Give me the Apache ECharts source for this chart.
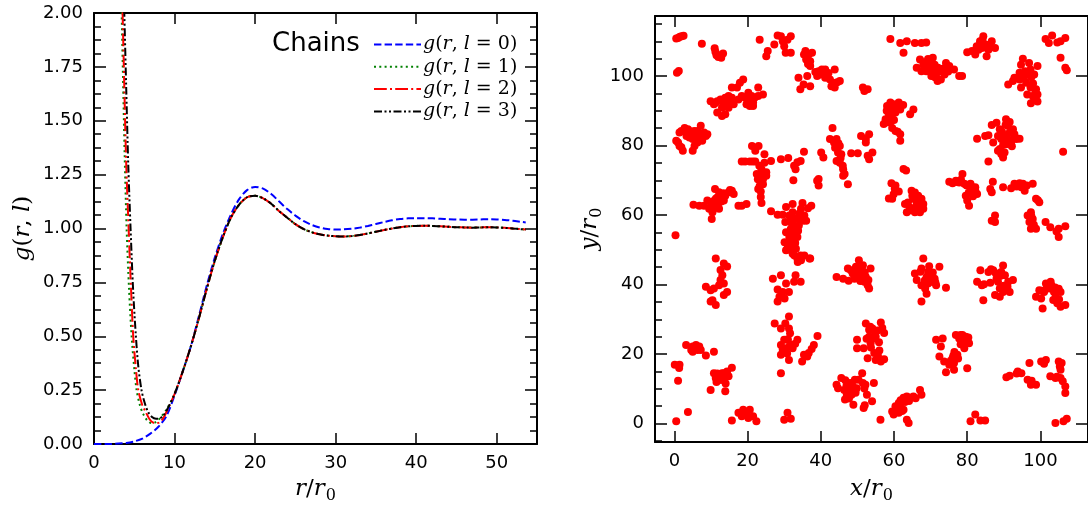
<!DOCTYPE html>
<html>
<head>
<meta charset="utf-8">
<script src="https://cdn.jsdelivr.net/npm/echarts@6/dist/echarts.min.js"></script>
<style>html,body{margin:0;padding:0;background:#fff;}#c{width:1088px;height:509px;}</style>
</head>
<body>
<div id="c"></div>
<script>
// ---- Left panel: radial distribution functions g(r,l) ----
var gL0 = [[0,0],[2,0.0],[3,0.002],[4,0.005],[5,0.012],[6,0.025],[7,0.048],[8,0.08],[9,0.13],[10,0.225],[11,0.335],[12,0.45],[13,0.59],[14,0.735],[15,0.865],[16,0.975],[17,1.065],[18,1.135],[19,1.178],[20,1.193],[21,1.185],[22,1.16],[23,1.125],[24,1.09],[25,1.06],[26,1.035],[27,1.017],[28,1.005],[29,0.998],[30,0.995],[31,0.996],[32,0.999],[33,1.004],[34,1.012],[35,1.021],[36,1.03],[37,1.038],[38,1.044],[39,1.047],[40,1.048],[41,1.048],[42,1.047],[43,1.045],[44,1.043],[45,1.042],[46,1.041],[47,1.041],[48,1.042],[49,1.043],[50,1.042],[51,1.04],[52,1.036],[53,1.031],[53.6,1.028]];
var gL1 = [[3.3,2.2],[3.43,2.0],[3.6,1.7],[3.8,1.35],[4.05,1.0],[4.35,0.72],[4.67,0.5],[5.0,0.35],[5.29,0.25],[5.7,0.18],[6.1,0.14],[6.6,0.11],[7.1,0.097],[7.6,0.1],[8.2,0.12],[9,0.16],[10,0.232],[11,0.335],[12,0.45],[13,0.58],[14,0.72],[15,0.85],[16,0.96],[17,1.05],[18,1.11],[19,1.145],[20,1.152],[21,1.14],[22,1.115],[23,1.08],[24,1.05],[25,1.02],[26,0.998],[27,0.983],[28,0.973],[29,0.967],[30,0.964],[31,0.963],[32,0.965],[33,0.97],[34,0.977],[35,0.985],[36,0.993],[37,1.0],[38,1.006],[39,1.01],[40,1.012],[41,1.013],[42,1.012],[43,1.01],[44,1.008],[45,1.006],[46,1.005],[47,1.004],[48,1.005],[49,1.006],[50,1.005],[51,1.003],[52,1.0],[53,0.997],[53.6,0.995]];
var gL2 = [[3.4,2.2],[3.55,2.0],[3.75,1.68],[4.0,1.3],[4.3,1.0],[4.6,0.72],[4.87,0.5],[5.2,0.35],[5.5,0.25],[6.0,0.18],[6.4,0.15],[6.9,0.115],[7.3,0.1],[7.7,0.097],[8.1,0.1],[8.6,0.12],[9.2,0.165],[10,0.232],[11,0.335],[12,0.45],[13,0.58],[14,0.72],[15,0.85],[16,0.96],[17,1.05],[18,1.11],[19,1.145],[20,1.152],[21,1.14],[22,1.115],[23,1.08],[24,1.05],[25,1.02],[26,0.998],[27,0.983],[28,0.973],[29,0.967],[30,0.964],[31,0.963],[32,0.965],[33,0.97],[34,0.977],[35,0.985],[36,0.993],[37,1.0],[38,1.006],[39,1.01],[40,1.012],[41,1.013],[42,1.012],[43,1.01],[44,1.008],[45,1.006],[46,1.005],[47,1.004],[48,1.005],[49,1.006],[50,1.005],[51,1.003],[52,1.0],[53,0.997],[53.6,0.995]];
var gL3 = [[3.6,2.2],[3.76,2.0],[4.0,1.65],[4.25,1.3],[4.54,1.0],[4.85,0.72],[5.2,0.5],[5.5,0.36],[5.9,0.25],[6.3,0.19],[6.7,0.15],[7.2,0.125],[7.7,0.117],[8.1,0.118],[8.6,0.132],[9.2,0.168],[10,0.232],[11,0.335],[12,0.45],[13,0.58],[14,0.72],[15,0.85],[16,0.96],[17,1.05],[18,1.11],[19,1.145],[20,1.152],[21,1.14],[22,1.115],[23,1.08],[24,1.05],[25,1.02],[26,0.998],[27,0.983],[28,0.973],[29,0.967],[30,0.964],[31,0.963],[32,0.965],[33,0.97],[34,0.977],[35,0.985],[36,0.993],[37,1.0],[38,1.006],[39,1.01],[40,1.012],[41,1.013],[42,1.012],[43,1.01],[44,1.008],[45,1.006],[46,1.005],[47,1.004],[48,1.005],[49,1.006],[50,1.005],[51,1.003],[52,1.0],[53,0.997],[53.6,0.995]];
var legendNames = ['l = 0', 'l = 1', 'l = 2', 'l = 3'];

// tick values
var leftXTicks = [0, 10, 20, 30, 40, 50];
var rightMajorTicks = [0, 20, 40, 60, 80, 100];
var rightMinorTicks = [-5, 5, 10, 15, 25, 30, 35, 45, 50, 55, 65, 70, 75, 85, 90, 95, 105, 110, 115];

// ---- Right panel: particle positions (x/r0, y/r0) ----
var ptsTop = [[0.5,110.8],[1,111],[1.5,111.3],[2,111.5],[2.5,111.6],[0.7,101],[1.2,101.5],[7.5,109.3],
[11,108],[11.2,107],[11.5,106],[12,105.5],[12.5,106],[13.3,106.5],[12.8,105.3],
[23.3,110.5],[25.1,105.7],[25.5,107.2],[27.3,109.1],[28.2,111.7],[29.1,111.5],[30,108.6],[30.9,110.5],[30.4,106.7],[31.8,111.5],[31.8,106.7],[29.6,110],
[35.8,107.2],[36.7,106.2],[37.6,106.7],[37.1,104.3],[37.1,102.9],[36.3,100],[33.9,99.5],[34.4,96.2],[35.3,97.6],[37.1,97.1],[39,100],[39.4,101.4],[40.3,101.9],[41.2,101.9],[41.2,99.5],[42.5,99],[43.4,98.1],[43.8,96.7],[42.9,97.1],[43.8,101.9],[45.2,98.6],[42.1,100.9],[39.8,100.5],[35.4,106.2],
[36,104.8],[36.5,103.5],[40.8,100.8],[38.5,101.2],[44.5,98.2],
[51.9,95.7],[52.8,96.2],[51.5,96.7],
[59,110.7],[61.7,109.5],[62.6,106.7],[63.5,110],[65.7,109.5],[67.5,109.5],[68.8,109.7],[67.1,104.8],[68,103.3],[67.5,101.4],[68.8,101.4],[69.3,102.9],[70.6,105.3],[71.1,103.3],[70.6,101.4],[71.5,100.5],[71.9,98.6],[72.8,101.4],[73.8,100.5],[74.2,103.8],[75.1,102.9],[76.4,101.9],[77.8,100],[78.6,100],[66.2,102.4],[70.2,100],[72.8,99],
[68.4,104],[69.5,101.8],[70,103.5],[72,102.4],[71.2,99.7],[73.3,102.1],[74.8,101.3],[69.3,104.9],
[80,106.9],[81.3,107.2],[82.2,106.2],[82.6,108.6],[83.5,110],[84.4,111.5],[84.9,109.1],[85.3,105.7],[85.8,107.6],[86.7,110],[87.6,108.1],[84,108.1],[83.1,107.6],
[83.4,108.9],[84.2,110.4],[85.2,108.2],[86,109],[82.4,107.5],
[101.4,110.7],[102.3,109.5],[103.2,111.7],[104.6,109.7],[105.5,110],[106.8,111],[105.5,105.3],[106.8,102.4],[107.2,101.7],
[95.2,105],[94.7,103.3],[96.9,103.8],[97.3,101.9],[99.2,102.9],[98.3,100.5],[94.3,101],[92.9,99.5],[92.5,98.6],[91.2,97.6],[94.3,99],[94.7,96.7],[96.1,98.1],[97.3,96.7],[96.4,94.7],[97.9,94.3],[98.8,96.2],[99.2,94.7],[98.3,93.2],[97.4,92.2],[99.2,92.7],
[95.8,101.4],[96.6,100.5],[97.5,99.7],[98,97.9],[98.6,95.1],[95.5,99.7]];
var ptsUpper = [[9.9,92.8],[10.8,91.9],[11.7,92.8],[12.6,93.3],[11.7,89.5],[13,88.5],[13.9,89],[13,90.9],[14.4,91.9],[14.8,94.3],[15.7,93.8],[15.7,96.7],[17.1,96.7],[17.9,98.1],[18.8,99],[16.2,91.9],[13.9,93.8],[19.3,93.8],[19.7,91.9],[20.2,93.3],[20.6,91.4],[21.5,92.4],[21.9,93.8],[22.9,96.7],[22.9,94.3],[24.2,94.7],[21.1,94.3],[20.2,95.2],
[11.3,92.3],[13.5,92.3],[15.3,93.3],[17.5,93.3],[18.4,94.3],[20.6,92.8],[21.5,91.4],[14.8,90.9],
[0.5,81.4],[1.4,79.9],[2.3,78.5],[1.9,84.2],[2.8,85.1],[3.7,84.7],[3.3,82.8],[4.6,83.8],[5,81.9],[5.5,79.9],[5,78.5],[5.9,83.3],[6.8,81.9],[7.2,85.7],[7.6,81.4],[8.6,82.8],[9,83.3],[6.3,80.9],[4.1,82.3],[1.4,83.8],
[1,80.9],[1.9,79.5],[3.2,83.8],[4.1,84.2],[5.4,84.2],[6.3,84.2],[5.9,80.9],[7.7,82.8],[8.1,83.8],
[58.1,91.4],[59,92.4],[59.9,91.9],[61.3,92.4],[61.7,90.4],[59.5,90],[58.6,89],[57.7,87.6],[57.2,86.2],[59,86.7],[59.5,85.1],[60.4,84.2],[61.7,83.3],[61.7,81.4],[60.4,89.5],[64.4,89],[65.3,90.4],
[58.5,91],[60,90.8],[61,91],[62.5,91.7],[58,90],[59.4,88],[60,87.4],[61,84],[58.2,86.7],
[82.7,82],[84.9,82.8],[85.8,83],[85.8,75.4],[86.7,85.9],[88,86.6],[88.9,84.7],[88.4,82.8],[89.3,81.9],[90.2,82.8],[90.6,87.6],[91.1,85.7],[91.6,83.8],[92,80.9],[92.9,83.3],[93.4,81.9],[94.3,82],[91.1,81.9],[92.5,84.7],[88.9,79],[89.3,77.6],[89.8,76.6],[88.4,78.5],[90.6,80.4],[87.1,80.9],
[89.5,84],[90,83],[90.5,86],[91.6,86.8],[93,82.2],[92.2,79.8],[89.8,80.2],[90.2,78],
[106.2,78.2],
[43.2,85.1],[42.5,81.9],[43.6,80.9],[44.3,81.9],[45.2,79.9],[44.7,78],[45.6,77.5],[44.3,75.6],[45.2,75.1],[46.1,73.2],[46.1,71.3],[47.4,68.9],[46.5,71.8],
[44.8,80.7],[43.9,79.4],[45.4,76.4],[46,74.2],
[48.3,77.8],[50.1,77.8],[51,82.8],[52.3,81.9],[53.2,83.3],[52.3,80.9],[54.1,78],[53.2,76.1],[52.8,77.1]];
var ptsMiddle = [[18.4,75.4],[19.3,75.4],[21.2,79.9],[22.1,78.5],[23,79.9],[20.6,75.4],[22.1,75.4],[22.5,71.8],[23.8,73.2],[24.6,75.1],[24.6,77.5],[26.4,75.6],[25.1,71.3],[24.2,70.3],[23.3,68.4],[22.9,67.5],[24.2,68.9],[23.6,65.2],[23.8,63.5],[25.1,72.3],[29.1,76.1],
[21.4,75.4],[23.2,74.2],[24,71.7],[22.8,70.3],[23.6,66.8],
[31.1,76.4],[32.7,74.2],[33.6,75.2],[34.5,75.6],[33.1,73.2],[32.5,70],[35.4,78.2],
[40.1,78],[40.7,76.6],[39.4,70.4],[39.4,68.5],[39,69.9],
[5.2,63],[6.8,62.7],[9,64.2],[9.9,62.3],[10.4,60.8],[10.2,58.9],[11.3,63.2],[11.7,65.1],[12.2,61.8],[11.1,67.5],[12.2,66.6],[13,65.1],[13.9,65.6],[14.8,66.6],[15.7,67],[16.2,66.1],[17.5,62.7],[18.4,62.7],[19.7,63.2],[8.1,62.7],[13.5,64.2],[11.3,64.7],[9.5,61.8],
[10.8,62.6],[11.9,62.5],[12.8,63.9],[10.6,64],[13.4,66.3],[15.2,67.2],
[0.3,54.2],
[26.4,61.1],[28.2,60.1],[29.6,60.1],[30.5,62.3],[32.3,63.2],[32.3,60.8],[31.9,59.4],[34.6,61.8],[35.5,59.9],[35.1,58.4],[36,58.4],[37.4,62.7],[34,57],[32.7,57],[33.1,55.1],[31.9,54.2],[32.8,53.2],[31.5,52.2],[33.6,53.7],[31.4,59.9],[32.3,57],[30.5,55.1],[31.4,53.7],[30.1,52.2],[31,50.8],[32.3,51.8],[32.8,48.4],[34.1,48],[35.5,48.4],[36.9,47.5],[33.7,46.5],[34.6,47],[33.2,54.9],[33.2,50.3],
[32,57.8],[31.8,56],[32.5,55.8],[33.8,55.5],[32,52.5],[33,52],[31.5,50],[32,50.5],[33.5,59],[34.2,60.5],[35,63.5],[36.5,62],[34.7,58.6],[30.3,58],
[59.3,69.2],[60.4,68.5],[61.3,66.8],[59.9,66],[58.6,64.8],[59.5,64.7],[62.6,73.3],[63.3,72.8],[64.8,67],[65.7,66.5],[65.3,64.7],[66.6,65.6],[66.2,63.7],[67.5,64.7],[68,63.2],[63,63.2],[63.5,60.8],[65.7,60.8],[67.1,60.8],[68,61.8],[64.3,62.2],
[60.2,67.6],[65,65.6],[66,62.5],[64.6,61.4],[67.4,62.4],[63.8,63.6],
[75.1,69.6],[76,69.2],[76.9,69.9],[77.8,69.4],[78.7,71.8],[79.2,69],[80,68.5],[80.9,69],[81.3,67.5],[82.2,68],[82.7,66.1],[81.8,66.6],[79.6,65.6],[80,64.2],[80.5,62.7],[82.2,67],
[77.2,69.5],[78.3,70.2],[79.8,68.6],[81.1,68.2],[80.4,66.4],[81.6,65.4],
[87,69.6],[86.3,67.5],[86.7,66.6],[89.8,68],[92,67.7],[92.9,69],[94.3,69.2],[95.2,69],[94.8,68],[95.7,67],[97.9,69],[98.8,64.7],[99.7,63.7],[96.5,59.9],[97.4,60.8],[97.9,58.9],[97.4,56.1],[98.8,56.1],[101.4,58],[102.7,56.5],[105,56.1],[105,53.7],[106.8,56.8],[86.7,58.4],[87.6,59.9],[87.6,58],[97,58],
[93.5,68.2],[96.3,68.5],[99.3,64.3],[97.5,59.8],[98.2,57.2],[104.4,55.3]];
var ptsLower = [[11.3,47.5],[13.5,46.1],[14.4,45.2],[12.6,44.2],[13.1,42.7],[12.6,41.3],[13.5,40.3],[12.2,39.8],[10.8,38.9],[8.6,39.4],[9.9,38.4],[13.5,37],[14.4,37.9],[10.4,35.5],[11.3,34.1],[9.9,35.1],
[30.5,49.9],[32.3,48.9],[33.6,47.5],[34.5,48.4],[37.1,47.5],[26.9,41.7],[29.1,42.7],[30.5,40.3],[28.2,38.6],[29.6,37.9],[28.7,36.5],[28.2,35.1],[30.1,36],[33.1,42.7],[34.5,40.8],[32.7,40.8],[31.3,37.9],
[44.3,42.2],[46.1,41.7],[47.4,44.6],[48.7,43.2],[49.6,45.1],[50.4,47],[51.3,44.1],[50,42.2],[52.3,42.2],[52.8,39.8],[53.6,44.6],[51.9,40.8],[53.2,38.9],[49.2,41.7],[48.2,44.1],
[49,43.3],[50.2,44.2],[51,43],[51.5,45.6],[50.8,41],[52,43.5],[53,41.3],[47.6,41.1],
[65.7,43.2],[66.2,41.3],[67.5,44.6],[68,47.5],[68.9,42.2],[69.3,43.6],[70.2,40.8],[71.1,41.7],[71.5,39.8],[72.4,45.1],[68.5,38.9],[67.5,35.1],[68.9,37.4],[74.2,39.1],[69.3,40.3],[67.5,39.8],
[67.2,43.7],[68.4,41.2],[70,42.3],[70.6,43.5],[69.6,45.3],[71.3,40.6],
[82.7,40.8],[83.6,44.1],[84,39.8],[84.4,35.5],[85.8,43.6],[87.1,44.1],[88,41.7],[88.4,40.8],[88.9,38.9],[89.8,45.5],[90.3,42.7],[91.2,40.8],[92.5,41.3],[91.6,37.9],[87.6,37],[88.9,36.5],[89.3,43.6],
[86.5,44.4],[87.8,43.3],[89,42.5],[90,39.7],[91,39.4],[89.8,37.9],[86.3,40.5],[84.6,40.1],
[98.8,36.5],[99.7,38.4],[100.6,33.1],[101.5,40.3],[102.8,40.8],[103.7,37.9],[104.2,36.5],[104.6,34.6],[105.5,37.9],[105.5,33.6],[106.8,34.1],[100.2,36],[102.4,38.9],[101,37.9],
[101.8,39.4],[103,39.8],[104,39.2],[105,38.8],[103.5,35.6],[105.1,35.7],[100.4,38.2]];
var ptsBottom = [[0.1,16.9],[1.4,16.9],[1,12.3],[3.2,22.6],[5,22.2],[5.9,22.6],[6.3,21.2],[6.8,22.2],[7.2,21.2],[8.6,19.6],[10.8,20.7],[10.8,14.5],[11.3,13.1],[12.2,14],[12.6,12.6],[13.5,14.5],[14.4,15],[14.8,13.6],[15.7,16.1],[9.9,9.7],[13.9,9.3],[13,12.6],[4.6,21.2],[5,20.7],
[1.3,16],[5.4,21.7],[6,21.7],[11.7,14.4],[12.5,13.7],[13,14.5],[13.6,13.5],[11.5,12],[14,11.5],
[27.4,28.8],[29.1,27.4],[31.3,30.8],[31.3,27.4],[29.1,22.6],[30,20.7],[29.1,19.8],[30.5,21.7],[32.3,22.6],[33.6,24.1],[32.3,21.7],[29.1,14.5],[31.3,18.3],[34.9,17.9],[35.4,19.8],[36.7,20.3],[38.1,22.6],[39.1,25.2],[30,24.1],
[29.6,21.3],[30.8,20.2],[31.6,22.8],[31,24.3],[33,23],[36.3,19.3],[37.5,21.5],[30.3,28.8],[31.6,26],
[44.3,11.2],[44.7,10.2],[45.6,13.1],[46.6,6.9],[47.5,9.3],[48,11.7],[48.4,8.3],[49.3,12.6],[49.8,10.2],[51.3,14.5],[51.7,4.5],[52.2,11.2],[52.6,8.3],[54,6.4],[54.5,11.7],[50.3,12.6],[48.9,5.4],
[46.4,9.7],[47,10.8],[48.2,9.4],[48.7,10.8],[49.5,8.9],[47.7,7.2],[47.1,8.2],[51.5,11.7],[51.9,10.1],[52,5.3],[46.7,12.5],
[52.3,28.8],[53.2,27],[54.1,27.4],[55,25],[55.9,23.4],[56.4,29.1],[57.3,26.1],[53.6,23.1],[51.7,21.7],[49.9,21.7],[49.9,24.1],[54.6,20.3],[55,18.3],[56.4,17.9],[57.3,18.5],[53.2,25],[52.8,18.8],
[53.5,27.9],[54.7,26.4],[55.5,26.8],[54.3,24.4],[56,21],[55.6,19.6],[53.7,21.9],[52.5,24.4],[56.8,27.5],
[59.5,3.5],[60.4,5],[61.3,5.9],[62.2,6.4],[62.6,7.4],[63.5,7.8],[64.4,7.4],[65.3,7.8],[67.1,9.7],[67.5,8.3],[61.3,3.1],[62.6,4],[63.5,1.1],[64,0.2],[56.3,1.1],[61.7,5],[59.9,2.6],
[60.9,4.2],[61.8,6.7],[63,6.2],[64.1,6.5],[65.9,7.3],[62.2,3.6],[60.5,3.9],
[71.5,24.1],[73.3,24.5],[72.8,22.2],[72.4,19.3],[73.7,17.9],[74.2,14.8],[75.1,16.9],[76,18.8],[76.4,17.4],[76.9,25.5],[77.8,24.5],[78.7,25.5],[79.6,25],[79.2,21.7],[80.5,23.1],[80,15.9],[77.3,19.8],[76.4,15.5],[78.2,22.8],
[76.5,20.6],[77.5,18.7],[76.2,19.5],[75.5,18.1],[78.2,25.5],[79,23.6],[80.3,24.8],
[80.9,0.7],[82.2,2.6],[83.6,0.9],[84.9,0.9],
[90.7,13.3],[91.6,13.8],[93.8,15],[94.8,14.5],[97,17.4],[96.5,12.6],[97.4,11.2],[98.8,11.2],[100.2,17.9],[101.5,18.3],[102.7,13.6],[104.1,13.1],[105,17.9],[105.8,17.4],[105.5,15.5],[105.5,13.1],[106.8,10.7],[106.8,8.8],[104.1,0.2],[106.3,0.7],[107.2,1.4],
[93.5,14.4],[97.6,12.3],[101,17.2],[104.5,13.5],[106.1,12.2],[105.3,16.4],
[0.5,0.7],[3.7,3.3],[15.7,0.9],[17.5,3.1],[18.8,4],[19.7,2.6],[20.6,4],[21.5,2.1],[22.4,0.7],[18.4,2.1],[20.2,1.6],[30,1.1],[30.9,3.1],[31.8,1.4]];

var points = [].concat(ptsTop, ptsUpper, ptsMiddle, ptsLower, ptsBottom);

var FONT = 'DejaVu Sans';
var MATH = 'DejaVu Serif';
var mathRich = {
  i: {fontFamily: MATH, fontStyle: 'italic', fontSize: 23, color: '#000', lineHeight: 30, verticalAlign: 'middle'},
  n: {fontFamily: MATH, fontSize: 23, color: '#000', lineHeight: 30, verticalAlign: 'middle'},
  s: {fontFamily: MATH, fontSize: 16, color: '#000', lineHeight: 30, verticalAlign: 'bottom', padding: [0, 0, 0, 1]}
};
var legRich = {
  i: {fontFamily: MATH, fontStyle: 'italic', fontSize: 19, color: '#000', lineHeight: 20},
  n: {fontFamily: MATH, fontSize: 19, color: '#000', lineHeight: 20}
};
var lbl = {fontFamily: FONT, fontSize: 18, color: '#000'};
var axLine = {show: true, onZero: false, lineStyle: {color: '#000', width: 2}};

function frameAxis(extra) {
  var base = {
    type: 'value', splitLine: {show: false}, axisLine: axLine,
    axisLabel: {show: false}, axisTick: {show: false}, minorTick: {show: false}
  };
  for (var k in extra) base[k] = extra[k];
  return base;
}
function majorTick(vals, len) {
  return {show: true, inside: true, length: len, lineStyle: {color: '#000', width: 1.5}, customValues: vals};
}

var chart = echarts.init(document.getElementById('c'), null, {renderer: 'canvas'});
chart.setOption({
  animation: false,
  backgroundColor: '#fff',
  grid: [
    {left: 94, right: 551, top: 13, bottom: 65, containLabel: false},
    {left: 655, right: -8, top: 16, bottom: 65, containLabel: false}
  ],
  xAxis: [
    frameAxis({gridIndex: 0, position: 'bottom', min: 0, max: 55,
      axisTick: majorTick(leftXTicks, 11),
      axisLabel: Object.assign({show: true, margin: 10, customValues: leftXTicks}, lbl),
      name: '{i|r}{n|/}{i|r}{s|0}', nameLocation: 'middle', nameGap: 30,
      nameTextStyle: {rich: mathRich}}),
    frameAxis({gridIndex: 0, position: 'top', min: 0, max: 55, axisTick: majorTick(leftXTicks, 11)}),
    frameAxis({gridIndex: 1, position: 'bottom', min: -5.3, max: 113,
      axisTick: majorTick(rightMajorTicks, 11),
      axisLabel: Object.assign({show: true, margin: 10, customValues: rightMajorTicks}, lbl),
      name: '{i|x}{n|/}{i|r}{s|0}', nameLocation: 'middle', nameGap: 32,
      nameTextStyle: {rich: mathRich}}),
    frameAxis({gridIndex: 1, position: 'top', min: -5.3, max: 113, axisTick: majorTick(rightMajorTicks, 11)})
  ],
  yAxis: [
    frameAxis({gridIndex: 0, position: 'left', min: 0, max: 2, interval: 0.25,
      axisTick: {show: true, inside: true, length: 12, lineStyle: {color: '#000', width: 1.5}},
      minorTick: {show: true, splitNumber: 4, length: 7, lineStyle: {color: '#000', width: 1.5}},
      axisLabel: Object.assign({show: true, margin: 11, formatter: function (v) { return v.toFixed(2); }}, lbl),
      name: '{i|g}{n|(}{i|r}{n|, }{i|l}{n|)}', nameLocation: 'middle', nameGap: 56, nameRotate: 90,
      nameTextStyle: {rich: mathRich}}),
    frameAxis({gridIndex: 0, position: 'right', min: 0, max: 2, interval: 0.25,
      axisTick: {show: true, inside: true, length: 12, lineStyle: {color: '#000', width: 1.5}},
      minorTick: {show: true, splitNumber: 4, length: 7, lineStyle: {color: '#000', width: 1.5}}}),
    frameAxis({gridIndex: 1, position: 'left', min: -5.3, max: 117.3,
      axisTick: majorTick(rightMajorTicks, 12),
      axisLabel: Object.assign({show: true, margin: 11, customValues: rightMajorTicks}, lbl),
      name: '{i|y}{n|/}{i|r}{s|0}', nameLocation: 'middle', nameGap: 50, nameRotate: 90,
      nameTextStyle: {rich: mathRich}}),
    frameAxis({gridIndex: 1, position: 'left', min: -5.3, max: 117.3, axisLine: {show: false, onZero: false},
      axisTick: majorTick(rightMinorTicks, 7)}),
    frameAxis({gridIndex: 1, position: 'right', min: -5.3, max: 117.3,
      axisTick: majorTick(rightMajorTicks, 12)})
  ],
  legend: {
    left: 373, top: 35, orient: 'vertical', itemWidth: 47, itemHeight: 14, itemGap: 3.3,
    data: legendNames, selectedMode: false, padding: 0,
    itemStyle: {opacity: 0, borderWidth: 0},
    textStyle: {rich: legRich, padding: [0, 0, 0, -3]},
    formatter: function (name) {
      var d = name.charAt(name.length - 1);
      return '{i|g}{n|(}{i|r}{n|, }{i|l}{n| = ' + d + ')}';
    }
  },
  graphic: [{
    type: 'text', left: 272, top: 31,
    style: {text: 'Chains', fontFamily: FONT, fontSize: 26, fill: '#000'}
  }],
  series: [
    {name: legendNames[0], type: 'line', xAxisIndex: 0, yAxisIndex: 0, data: gL0, symbol: 'none', smooth: 0.3, clip: true,
      lineStyle: {color: '#0000ff', width: 2, type: [7.4, 3.2]}, itemStyle: {color: '#0000ff'}},
    {name: legendNames[1], type: 'line', xAxisIndex: 0, yAxisIndex: 0, data: gL1, symbol: 'none', smooth: 0.3, clip: true,
      lineStyle: {color: '#008000', width: 2, type: [2, 3.3]}, itemStyle: {color: '#008000'}},
    {name: legendNames[2], type: 'line', xAxisIndex: 0, yAxisIndex: 0, data: gL2, symbol: 'none', smooth: 0.3, clip: true,
      lineStyle: {color: '#ff0000', width: 2, type: [12.8, 3.2, 2, 3.2]}, itemStyle: {color: '#ff0000'}},
    {name: legendNames[3], type: 'line', xAxisIndex: 0, yAxisIndex: 0, data: gL3, symbol: 'none', smooth: 0.3, clip: true,
      lineStyle: {color: '#000000', width: 2, type: [8, 2.5, 2, 2.5, 2, 2.5]}, itemStyle: {color: '#000000'}},
    {name: 'particles', type: 'scatter', xAxisIndex: 2, yAxisIndex: 2, data: points, symbol: 'circle', symbolSize: 8,
      itemStyle: {color: '#ff0000', opacity: 1}, clip: true}
  ]
});
</script>
</body>
</html>
